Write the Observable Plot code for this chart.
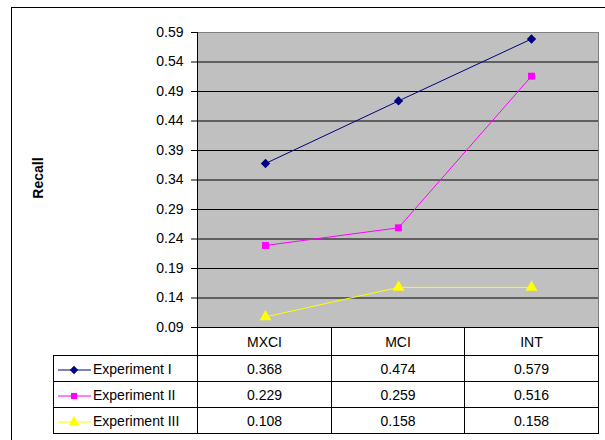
<!DOCTYPE html>
<html><head><meta charset="utf-8">
<script src="https://cdn.jsdelivr.net/npm/d3@7"></script>
<script src="https://cdn.jsdelivr.net/npm/@observablehq/plot@0.6"></script>
<style>
body{margin:0;background:#fff;font-family:"Liberation Sans",Arial,sans-serif;overflow:hidden;}
#wrap{position:relative;width:605px;height:440px;overflow:hidden;background:#fff;}
#border{position:absolute;left:11px;top:7px;width:594px;height:433px;border-left:1.5px solid #000;border-top:1.5px solid #000;box-sizing:border-box;}
#chart{position:absolute;left:0;top:0;}
#axisline{position:absolute;left:196.5px;top:32px;width:1px;height:323px;background:#000;}
#ylabel{position:absolute;left:38px;top:178px;transform:translate(-50%,-50%) rotate(-90deg);font-weight:bold;font-size:14px;white-space:nowrap;}
table{position:absolute;left:53px;top:327px;border-collapse:collapse;table-layout:fixed;font-size:14px;}
td{border:1px solid #000;padding:0;text-align:center;height:26px;box-sizing:border-box;}
tr.head td{height:28px;}
td.blank{border:none;border-right:1px solid #000;}
td.leg{text-align:left;padding-left:3px;white-space:nowrap;}
td.leg svg{vertical-align:middle;margin-right:2px;}
</style></head>
<body>
<div id="wrap">
<div id="border"></div>
<div id="chart"></div>
<div id="ylabel">Recall</div>
<div id="axisline"></div>
</div>
<script>
const categories = ["MXCI", "MCI", "INT"];
const seriesNames = ["Experiment I", "Experiment II", "Experiment III"];
const exp1 = [0.368, 0.474, 0.579];
const exp2 = [0.229, 0.259, 0.516];
const exp3 = [0.108, 0.158, 0.158];
const seriesValues = [exp1, exp2, exp3];
const seriesColors = ["#000080", "#FF00FF", "#FFFF00"];
const seriesSymbols = ["diamond2", "square", "triangle"];
const yTicks = [0.09, 0.14, 0.19, 0.24, 0.29, 0.34, 0.39, 0.44, 0.49, 0.54, 0.59];
const markerR = [4.2, 3.9, 4.4];

const data = seriesNames.flatMap((s, i) =>
  categories.map((c, j) => ({series: s, cat: c, value: seriesValues[i][j]})));

const chart = Plot.plot({
  width: 605, height: 345,
  marginLeft: 197, marginRight: 7, marginTop: 32, marginBottom: 18,
  style: {fontFamily: "Liberation Sans, Arial, sans-serif", fontSize: "14px", background: "transparent", color: "#000"},
  x: {type: "point", domain: categories, padding: 0.5, axis: null},
  y: {domain: [0.09, 0.59]},
  marks: [
    Plot.frame({fill: "#c0c0c0", stroke: "#808080"}),
    Plot.ruleY(yTicks.slice(1, -1), {stroke: "#000", strokeWidth: 1}),
    Plot.axisY({ticks: yTicks, tickSize: 6, tickPadding: 8, fontSize: 14, tickFormat: d3.format(".2f"), label: null}),
    ...seriesNames.map((s, i) => Plot.line(data.filter(d => d.series === s), {x: "cat", y: "value", stroke: seriesColors[i], strokeWidth: 1})),
    ...seriesNames.map((s, i) => Plot.dot(data.filter(d => d.series === s), {x: "cat", y: "value", fill: seriesColors[i], stroke: "none", symbol: seriesSymbols[i], r: markerR[i]}))
  ]
});
document.getElementById("chart").appendChild(chart);

// data table
const symMap = {diamond2: d3.symbolDiamond2, square: d3.symbolSquare, triangle: d3.symbolTriangle};
const table = document.createElement("table");
const colgroup = document.createElement("colgroup");
[144, 134, 133, 134].forEach(w => { const c = document.createElement("col"); c.style.width = w + "px"; colgroup.appendChild(c); });
table.appendChild(colgroup);
const head = document.createElement("tr"); head.className = "head";
const blank = document.createElement("td"); blank.className = "blank"; head.appendChild(blank);
categories.forEach(c => { const td = document.createElement("td"); td.textContent = c; head.appendChild(td); });
table.appendChild(head);
seriesNames.forEach((s, i) => {
  const tr = document.createElement("tr");
  const leg = document.createElement("td"); leg.className = "leg";
  const path = d3.symbol(symMap[seriesSymbols[i]], Math.PI * markerR[i] * markerR[i] * 0.8)();
  leg.innerHTML = `<svg width="34" height="12"><line x1="1" x2="34" y1="6" y2="6" stroke="${seriesColors[i]}" stroke-width="1"/><path d="${path}" transform="translate(17,6)" fill="${seriesColors[i]}"/></svg>`;
  leg.appendChild(document.createTextNode(s));
  tr.appendChild(leg);
  seriesValues[i].forEach(v => { const td = document.createElement("td"); td.textContent = d3.format(".3f")(v); tr.appendChild(td); });
  table.appendChild(tr);
});
document.getElementById("wrap").appendChild(table);
</script>
</body></html>
